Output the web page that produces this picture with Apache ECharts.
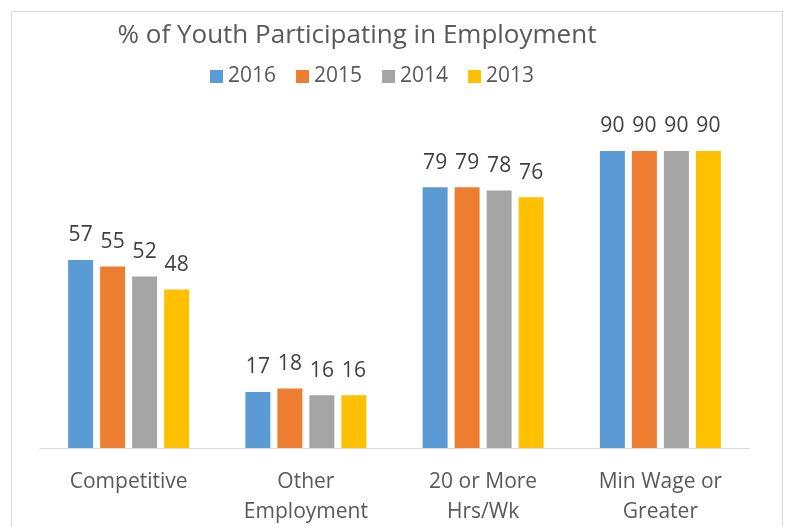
<!DOCTYPE html>
<html><head><meta charset="utf-8">
<script src="https://cdn.jsdelivr.net/npm/echarts@6/dist/echarts.min.js"></script>
<style>html,body{margin:0;padding:0;background:#fff}#c{width:788px;height:527px}
#frame{position:absolute;left:11px;top:11px;width:772px;height:530px;border:1px solid #d9d9d9;box-sizing:border-box;pointer-events:none}</style>
</head><body><div id="c"></div><div id="frame"></div>
<script>
var categories = ['Competitive', 'Other\nEmployment', '20 or More\nHrs/Wk', 'Min Wage or\nGreater'];
var seriesNames = ['2016', '2015', '2014', '2013'];
var v2016 = [57, 17, 79, 90];
var v2015 = [55, 18, 79, 90];
var v2014 = [52, 16, 78, 90];
var v2013 = [48, 16, 76, 90];
var colors = ['#5B9BD5', '#ED7D31', '#A5A5A5', '#FFC000'];
var values = [v2016, v2015, v2014, v2013];
var font = 'Open Sans, Liberation Sans, sans-serif';
var chart = echarts.init(document.getElementById('c'));
chart.setOption({
  animation: false,
  title: {text: '% of Youth Participating in Employment', left: 352, top: 18, textAlign: 'center',
    textStyle: {fontFamily: font, fontSize: 26, fontWeight: 'normal', color: '#595959'}},
  legend: {top: 61, left: 205, itemWidth: 13, itemHeight: 13, itemGap: 20,
    icon: 'rect', textStyle: {fontFamily: font, fontSize: 21, color: '#595959'}, data: seriesNames},
  grid: {left: 40, right: 39, top: 118, bottom: 79},
  xAxis: {type: 'category', data: categories, axisTick: {show: false},
    axisLine: {lineStyle: {color: '#d9d9d9', width: 1}},
    axisLabel: {fontFamily: font, fontSize: 21, color: '#595959', margin: 19, lineHeight: 30}},
  yAxis: {type: 'value', min: 0, max: 100, show: false, splitLine: {show: false}},
  series: values.map(function (d, i) {
    return {name: seriesNames[i], type: 'bar', data: d, barWidth: 25, barGap: '28%',
      itemStyle: {color: colors[i]},
      label: {show: true, position: 'top', distance: 14, fontFamily: font, fontSize: 21, color: '#404040'}};
  })
});
</script></body></html>
